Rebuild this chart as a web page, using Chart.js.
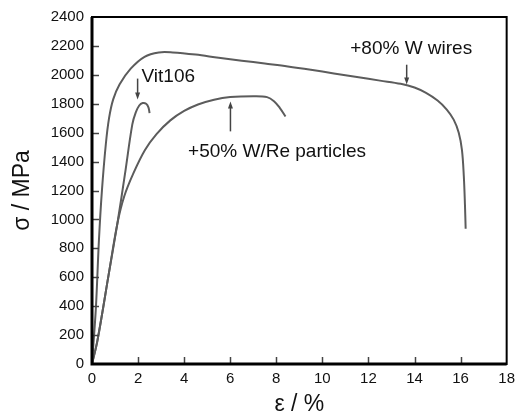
<!DOCTYPE html>
<html>
<head>
<meta charset="utf-8">
<script src="https://cdn.jsdelivr.net/npm/chart.js@4.4.1/dist/chart.umd.min.js"></script>
<style>
  html, body { margin: 0; padding: 0; background: #ffffff; }
  #wrap { width: 521px; height: 419px; }
</style>
</head>
<body>
<div id="wrap"><canvas id="c" width="521" height="419"></canvas></div>
<script>
// ---- data (strain %, stress MPa) ----
const wiresStrain = [0, 0.17, 0.3, 0.43, 0.6, 0.74, 0.92, 1.2, 1.68, 2.28, 2.9, 3.5, 4.5, 5.5, 6.5, 7.5, 8.5, 9.5, 10.5, 11.5, 12.5, 13.4, 14.0, 14.5, 15.0, 15.4, 15.7, 15.92, 16.06, 16.14, 16.19, 16.22];
const wiresStress = [0, 392, 853, 1197, 1520, 1700, 1830, 1935, 2043, 2125, 2155, 2155, 2140, 2118, 2098, 2078, 2058, 2035, 2010, 1985, 1960, 1938, 1912, 1875, 1822, 1760, 1690, 1600, 1480, 1300, 1100, 935];

const vitStrain = [0, 0.24, 0.73, 1.1, 1.43, 1.75, 1.9, 2.05, 2.2, 2.35, 2.45, 2.5];
const vitStress = [0, 165, 625, 970, 1313, 1657, 1740, 1788, 1805, 1800, 1775, 1735];

const partStrain = [0, 0.24, 0.73, 1.1, 1.4, 1.8, 2.3, 2.8, 3.4, 4.0, 4.6, 5.3, 6.0, 7.0, 7.6, 7.9, 8.15, 8.4];
const partStress = [0, 165, 625, 970, 1160, 1320, 1480, 1590, 1685, 1750, 1795, 1828, 1846, 1852, 1846, 1818, 1772, 1712];

const xTicks = [0, 2, 4, 6, 8, 10, 12, 14, 16, 18];
const yTicks = [0, 200, 400, 600, 800, 1000, 1200, 1400, 1600, 1800, 2000, 2200, 2400];

const seriesNames = ['+80% W wires', 'Vit106', '+50% W/Re particles'];
// annotation labels: text, anchor strain, anchor stress
const labelTexts = ['Vit106', '+50% W/Re particles', '+80% W wires'];
const labelStrain = [2.15, 4.17, 11.21];
const labelStress = [1988, 1465, 2180];
// arrows: strain, tail stress, head stress
const arrowStrain = [1.98, 6.01, 13.66];
const arrowFrom = [1974, 1609, 2070];
const arrowTo = [1829, 1816, 1933];

function pts(xs, ys) { return xs.map((x, i) => ({ x: x, y: ys[i] })); }

const FONT = "'Liberation Sans', Arial, sans-serif";
const lineColor = '#5c5c5c';

const decor = {
  id: 'decor',
  afterDraw(chart) {
    const ctx = chart.ctx;
    const a = chart.chartArea;
    const xs = chart.scales.x, ys = chart.scales.y;
    ctx.save();
    // inward ticks
    ctx.strokeStyle = '#444';
    ctx.lineWidth = 1.5;
    yTicks.forEach(v => {
      if (v === 0 || v === 2400) return;
      const py = Math.round(ys.getPixelForValue(v)) + 0.5;
      ctx.beginPath(); ctx.moveTo(a.left, py); ctx.lineTo(a.left + 7, py); ctx.stroke();
    });
    xTicks.forEach(v => {
      if (v === 0 || v === 18) return;
      const px = Math.round(xs.getPixelForValue(v)) + 0.5;
      ctx.beginPath(); ctx.moveTo(px, a.bottom); ctx.lineTo(px, a.bottom - 7); ctx.stroke();
    });
    // frame
    ctx.strokeStyle = '#000';
    ctx.lineWidth = 2;
    ctx.strokeRect(a.left, a.top, a.right - a.left, a.bottom - a.top);
    ctx.lineWidth = 3;
    ctx.beginPath();
    ctx.moveTo(a.left, a.top); ctx.lineTo(a.left, a.bottom); ctx.lineTo(a.right, a.bottom);
    ctx.stroke();
    // labels
    ctx.fillStyle = '#111';
    ctx.font = '19px ' + FONT;
    ctx.textAlign = 'left';
    ctx.textBaseline = 'middle';
    labelTexts.forEach((t, i) => {
      ctx.fillText(t, xs.getPixelForValue(labelStrain[i]), ys.getPixelForValue(labelStress[i]));
    });
    // arrows
    ctx.strokeStyle = '#444';
    ctx.fillStyle = '#444';
    ctx.lineWidth = 1.5;
    arrowStrain.forEach((s, i) => {
      const px = xs.getPixelForValue(s);
      const y0 = ys.getPixelForValue(arrowFrom[i]);
      const y1 = ys.getPixelForValue(arrowTo[i]);
      const dir = y1 > y0 ? 1 : -1;
      ctx.beginPath(); ctx.moveTo(px, y0); ctx.lineTo(px, y1 - dir * 4); ctx.stroke();
      ctx.beginPath();
      ctx.moveTo(px, y1);
      ctx.lineTo(px - 2.5, y1 - dir * 7);
      ctx.lineTo(px + 2.5, y1 - dir * 7);
      ctx.closePath(); ctx.fill();
    });
    ctx.restore();
  }
};

new Chart(document.getElementById('c'), {
  type: 'scatter',
  data: {
    datasets: [
      { label: seriesNames[0], data: pts(wiresStrain, wiresStress) },
      { label: seriesNames[1], data: pts(vitStrain, vitStress) },
      { label: seriesNames[2], data: pts(partStrain, partStress) }
    ].map(d => Object.assign(d, {
      showLine: true, borderColor: lineColor, borderWidth: 2, pointRadius: 0,
      tension: 0.35, fill: false
    }))
  },
  options: {
    responsive: false,
    animation: false,
    layout: { padding: { top: 15, right: 10, left: 0, bottom: 0 } },
    plugins: { legend: { display: false }, tooltip: { enabled: false } },
    scales: {
      x: {
        type: 'linear', min: 0, max: 18,
        afterFit(s) { s.height = 55; },
        afterBuildTicks(s) { s.ticks = xTicks.map(v => ({ value: v })); },
        grid: { display: false, drawTicks: false },
        border: { display: false },
        ticks: { padding: 6, color: '#111', font: { family: FONT, size: 15 }, maxRotation: 0, autoSkip: false,
                 callback: v => String(v) },
        title: { display: true, text: 'ε / %', color: '#111', font: { family: FONT, size: 23 }, padding: { top: 0, bottom: 1 } }
      },
      y: {
        type: 'linear', min: 0, max: 2400,
        afterFit(s) { s.width = 92; },
        afterBuildTicks(s) { s.ticks = yTicks.map(v => ({ value: v })); },
        grid: { display: false, drawTicks: false },
        border: { display: false },
        ticks: { padding: 8, color: '#111', font: { family: FONT, size: 15 }, autoSkip: false,
                 callback: v => String(v) },
        title: { display: true, text: 'σ / MPa', color: '#111', font: { family: FONT, size: 23 }, padding: { top: 9, bottom: 0 } }
      }
    }
  },
  plugins: [decor]
});
</script>
</body>
</html>
